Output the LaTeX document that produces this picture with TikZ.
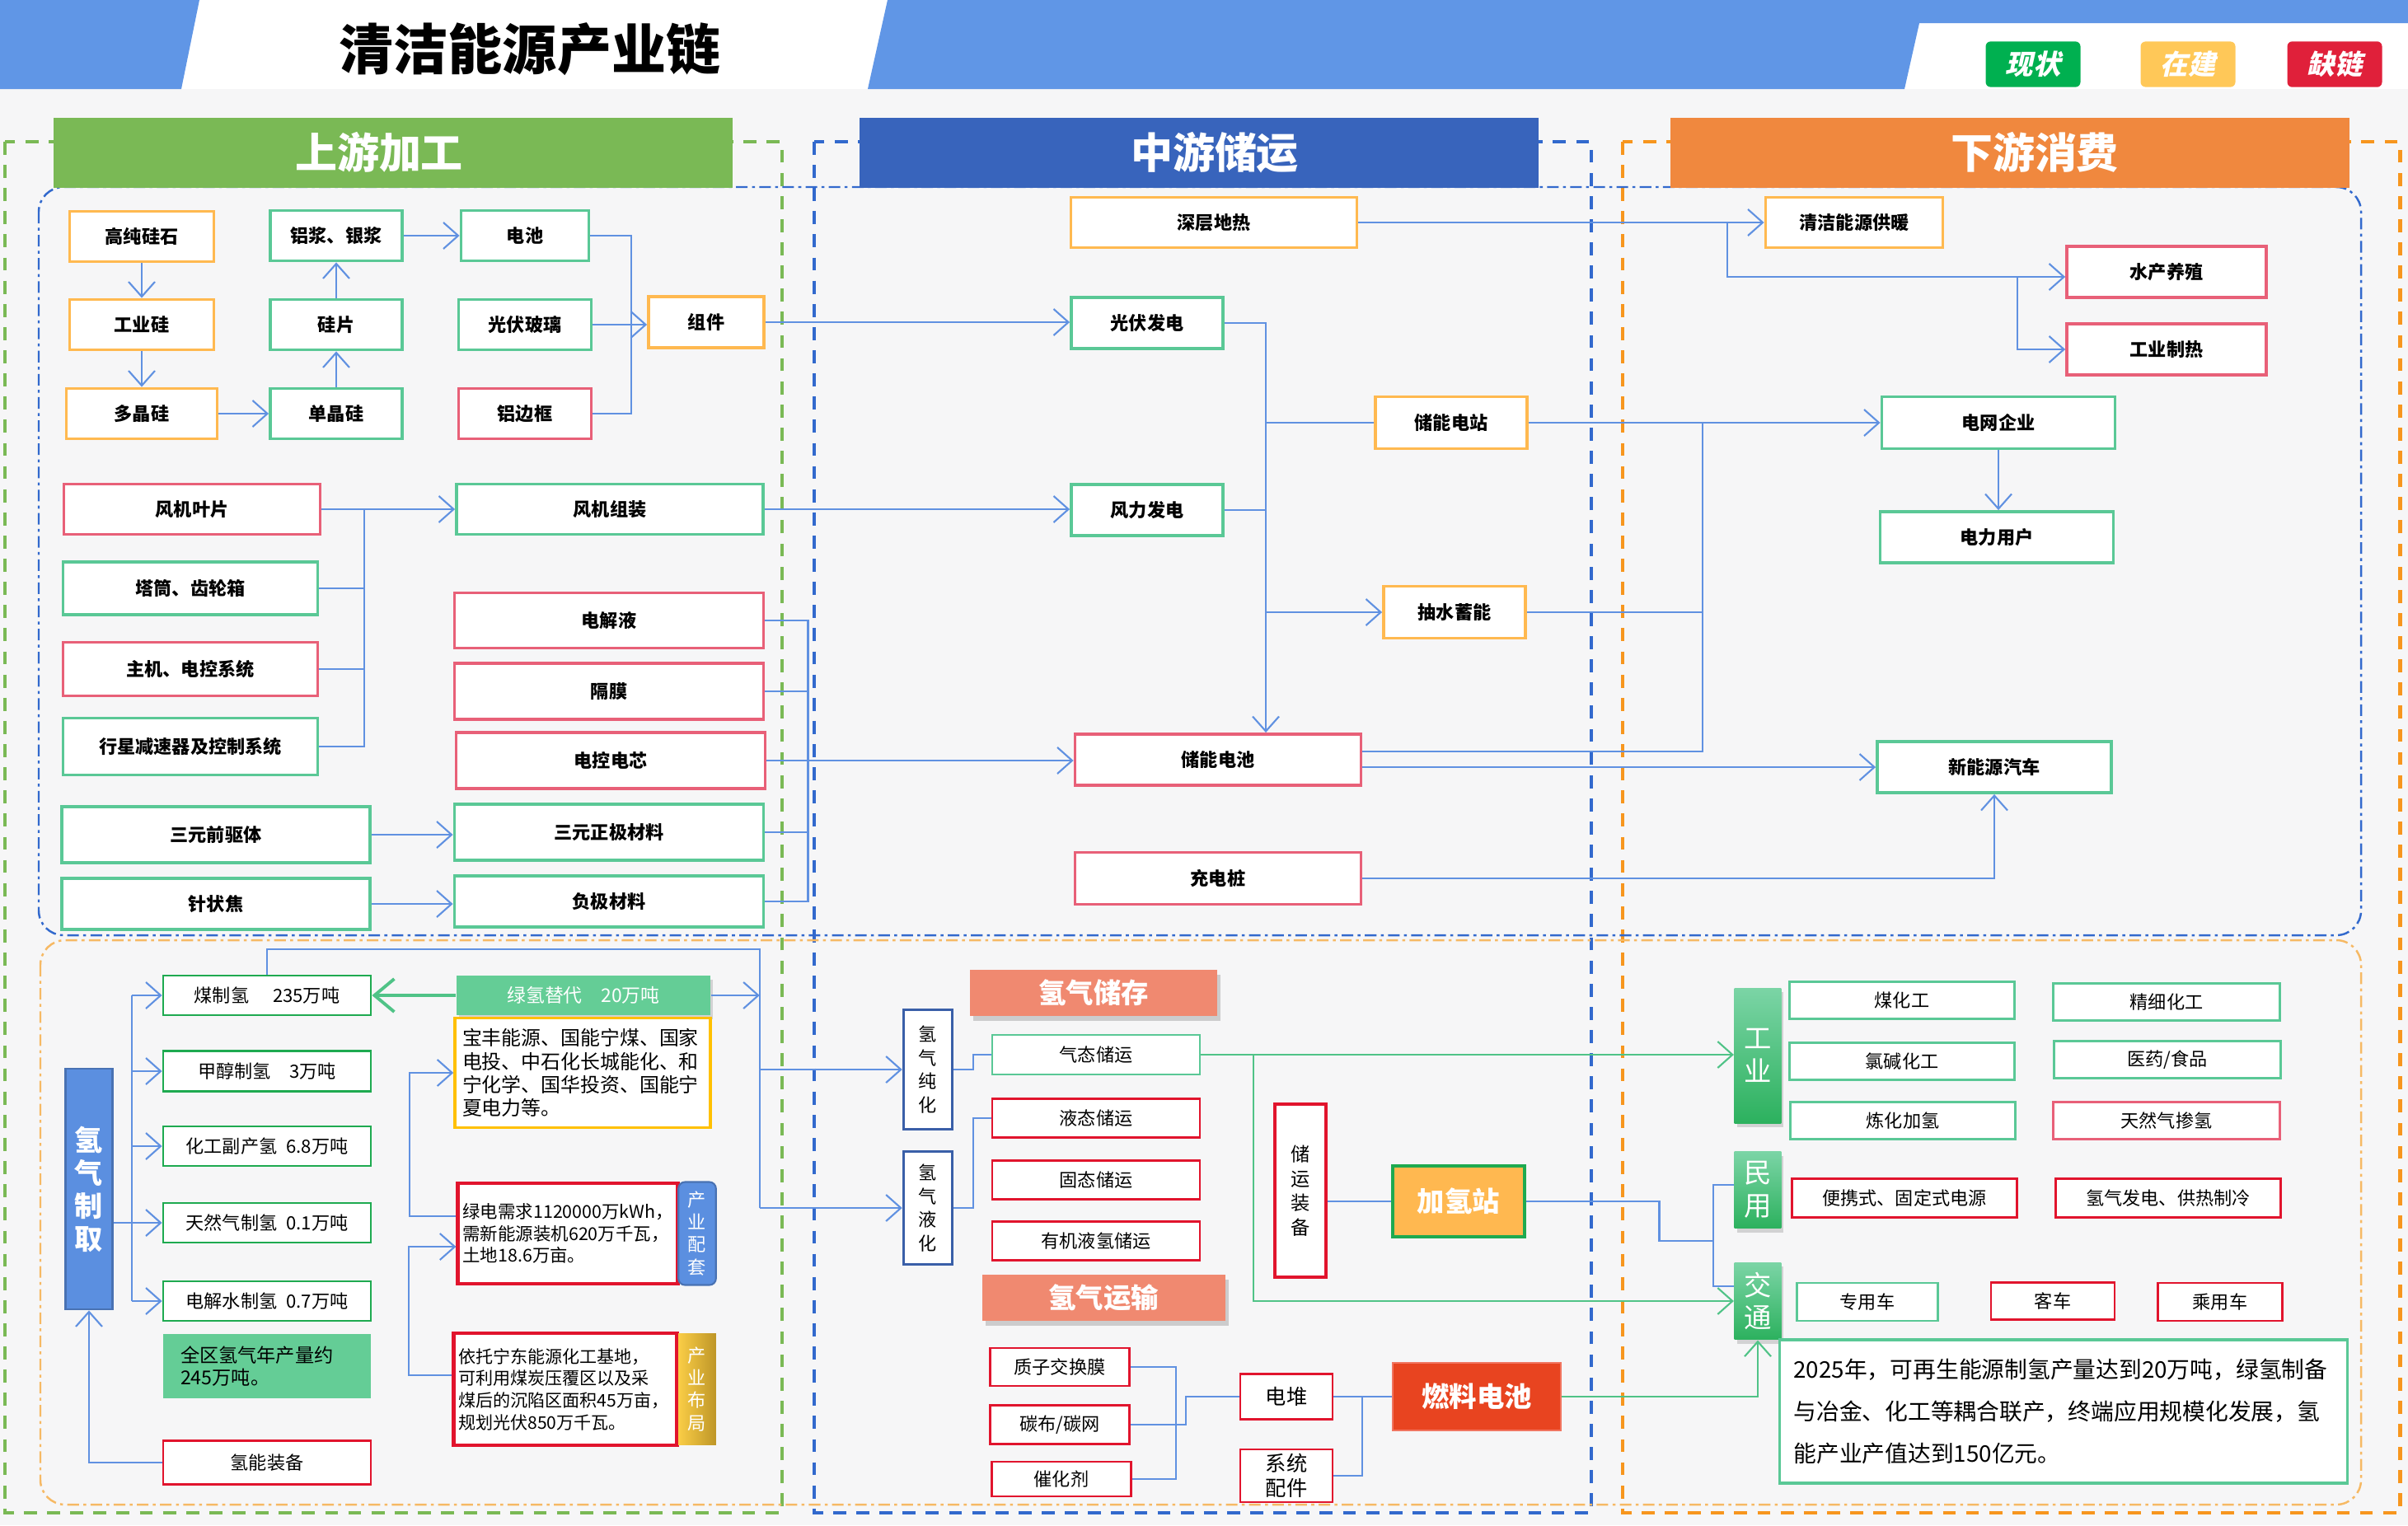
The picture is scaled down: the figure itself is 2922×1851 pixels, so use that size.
\documentclass[tikz,border=0pt]{standalone}
\usepackage{fontspec}
\setmainfont{Noto Sans CJK SC}
\newfontfamily\badgefont{Noto Sans CJK SC}[FakeSlant=0.22]
\usepackage{tikz}
\usepackage{xcolor}
\usetikzlibrary{arrows.meta, positioning, shadows}

\definecolor{hdrblue}{RGB}{96,150,230}
\definecolor{upgreen}{RGB}{122,185,85}
\definecolor{midblue}{RGB}{56,100,188}
\definecolor{downorange}{RGB}{240,136,62}
\definecolor{bxorange}{RGB}{255,185,80}
\definecolor{bxgreen}{RGB}{90,200,150}
\definecolor{bxred}{RGB}{232,96,120}
\definecolor{lineblue}{RGB}{96,145,225}
\definecolor{hgreen}{RGB}{30,170,80}
\definecolor{hred}{RGB}{225,20,45}
\definecolor{fillgreen}{RGB}{100,205,150}
\definecolor{salmon}{RGB}{240,137,112}
\definecolor{tabblue}{RGB}{91,143,224}
\definecolor{jqorange}{RGB}{255,184,80}
\definecolor{fcred}{RGB}{232,68,32}
\definecolor{gline}{RGB}{80,195,135}
\definecolor{bggray}{RGB}{246,246,247}
\definecolor{dashblue}{RGB}{50,105,205}
\definecolor{dashorange}{RGB}{247,150,30}
\definecolor{ddorange}{RGB}{246,185,100}

\tikzstyle{ubox}  = [rectangle, draw, line width=1.1pt, fill=white, text centered, inner sep=0pt,
                     font=\bfseries\fontsize{6.3}{7.5}\selectfont]
\tikzstyle{obox}  = [ubox, draw=bxorange]
\tikzstyle{gbox}  = [ubox, draw=bxgreen]
\tikzstyle{rbox}  = [ubox, draw=bxred]
\tikzstyle{hbox}  = [rectangle, draw, line width=0.8pt, fill=white, text centered, inner sep=0pt,
                     font=\fontsize{6.3}{7.5}\selectfont]
\tikzstyle{hgbox} = [hbox, draw=hgreen]
\tikzstyle{hrbox} = [hbox, draw=hred]
\tikzstyle{lgbox} = [hbox, draw=bxgreen]
\tikzstyle{vbox}  = [hbox, align=center, font=\fontsize{6.3}{8.2}\selectfont]
\tikzstyle{note}  = [rectangle, draw, fill=white, inner sep=0pt, align=left]
\tikzstyle{sechead} = [rectangle, text=white, minimum width=82.4mm, minimum height=8.5mm,
                       font=\bfseries\fontsize{14.5}{16}\selectfont]
\tikzstyle{badge} = [rectangle, rounded corners=0.6mm, text=white, minimum width=11.5mm,
                     minimum height=5.2mm, font=\badgefont\bfseries\fontsize{9.5}{10}\selectfont]
\tikzstyle{hhead} = [rectangle, fill=salmon, text=white, font=\bfseries\fontsize{9.5}{10}\selectfont,
                     drop shadow={opacity=0.35, shadow xshift=0.4mm, shadow yshift=-0.6mm}]
\tikzstyle{tab}   = [rectangle, text=white, align=center, font=\fontsize{6.3}{7.7}\selectfont]
\tikzstyle{cat}   = [rectangle, top color=fillgreen!85!white, bottom color=hgreen!80!fillgreen, text=white,
                     align=center, minimum width=5.2mm, font=\fontsize{9.5}{11.3}\selectfont,
                     drop shadow={opacity=0.3, shadow xshift=0.3mm, shadow yshift=-0.5mm}]
\tikzstyle{arrow} = [draw=lineblue, line width=0.6pt, -{Straight Barb[length=1.8mm, width=3.2mm]}]
\tikzstyle{conn}  = [draw=lineblue, line width=0.6pt]
\tikzstyle{garrow} = [draw=gline, line width=0.6pt, -{Straight Barb[length=1.8mm, width=3.2mm]}]
\tikzstyle{upframe}   = [draw=upgreen, line width=1.4pt, dash pattern=on 4.5pt off 3.5pt]
\tikzstyle{midframe}  = [draw=dashblue, line width=1.4pt, dash pattern=on 4.5pt off 3.5pt]
\tikzstyle{downframe} = [draw=dashorange, line width=1.4pt, dash pattern=on 4.5pt off 3.5pt]
\tikzstyle{ddframe}   = [line width=0.7pt, rounded corners=3mm, dash pattern=on 4pt off 1.5pt on 1pt off 1.5pt]

\begin{document}
\begin{tikzpicture}[x=0.1mm, y=-0.1mm]
    \useasboundingbox (0,0) rectangle (2922,1851);
    % background and header band
    \fill[white] (0,0) rectangle (2922,1851);
    \fill[bggray] (0,108) rectangle (2922,1851);
    \fill[hdrblue] (0,0) -- (242,0) -- (220,108) -- (0,108) -- cycle;
    \fill[hdrblue] (1077,0) -- (2922,0) -- (2922,28) -- (2329,28) -- (2311,108) -- (1053,108) -- cycle;
    \node (title) at (643,60) {\bfseries\fontsize{18.8}{20}\selectfont 清洁能源产业链};
    \node (now)   [badge, fill={rgb,255:red,0;green,176;blue,80}] at (2467,78) {现状};
    \node (build) [badge, fill={rgb,255:red,255;green,200;blue,88}] at (2655,78) {在建};
    \node (gap)   [badge, fill={rgb,255:red,224;green,32;blue,58}] at (2833,78) {缺链};

    % section frames
    \draw[upframe]   (6,172) rectangle (949,1836);
    \draw[midframe]  (988,172) rectangle (1931,1836);
    \draw[downframe] (1969,172) rectangle (2912,1836);
    \draw[ddframe, draw=dashblue] (47,227) rectangle (2865,1135);
    \draw[ddframe, draw=ddorange] (49,1141) rectangle (2865,1826);

    \node (hup)   [sechead, fill=upgreen]    at (477,185)  {上游加工\hspace*{3.4mm}};
    \node (hmid)  [sechead, fill=midblue]    at (1455,185) {\hspace*{3.8mm}中游储运};
    \node (hdown) [sechead, fill=downorange] at (2439,185) {\hspace*{6mm}下游消费};

    % upstream: photovoltaic
    \node (gaochun)   [obox, minimum width=17.5mm, minimum height=6.1mm] at (172,287) {高纯硅石};
    \node (gongyegui) [obox, minimum width=17.5mm, minimum height=6.1mm] at (172,394) {工业硅};
    \node (duojing)   [obox, minimum width=18.3mm, minimum height=6.1mm] at (172,502) {多晶硅};
    \node (lujiang)   [gbox, minimum width=16mm, minimum height=6.1mm] at (408,286) {铝浆、银浆};
    \node (guipian)   [gbox, minimum width=16mm, minimum height=6.1mm] at (408,394) {硅片};
    \node (danjing)   [gbox, minimum width=16mm, minimum height=6.1mm] at (408,502) {单晶硅};
    \node (dianchi)   [gbox, minimum width=15.5mm, minimum height=6.1mm] at (637,286) {电池};
    \node (boli)      [gbox, minimum width=16.1mm, minimum height=6.1mm] at (637,394) {光伏玻璃};
    \node (biankuang) [rbox, minimum width=16.1mm, minimum height=6.1mm] at (637,502) {铝边框};
    \node (zujian)    [obox, minimum width=14mm, minimum height=6.2mm] at (857,391) {组件};

    % upstream: wind
    \node (yepian)   [rbox, minimum width=31.1mm, minimum height=6.1mm] at (233,618) {风机叶片};
    \node (tatong)   [gbox, minimum width=30.9mm, minimum height=6.4mm] at (231,714) {塔筒、齿轮箱};
    \node (zhuji)    [rbox, minimum width=30.9mm, minimum height=6.5mm] at (231,812) {主机、电控系统};
    \node (xingxing) [gbox, minimum width=30.9mm, minimum height=6.9mm] at (231,906) {行星减速器及控制系统};
    \node (fengzu)   [gbox, minimum width=37.2mm, minimum height=6.1mm] at (740,618) {风机组装};

    % upstream: battery
    \node (jieye)      [rbox, minimum width=37.5mm, minimum height=6.7mm] at (739,753) {电解液};
    \node (gemo)       [rbox, minimum width=37.5mm, minimum height=6.8mm] at (739,839) {隔膜};
    \node (diankong)   [rbox, minimum width=37.5mm, minimum height=6.8mm] at (741,923) {电控电芯};
    \node (qianqu)     [gbox, minimum width=37.4mm, minimum height=6.8mm] at (262,1013) {三元前驱体};
    \node (zhengji)    [gbox, minimum width=37.5mm, minimum height=6.8mm] at (739,1010) {三元正极材料};
    \node (zhenzhuang) [gbox, minimum width=37.4mm, minimum height=6.2mm] at (262,1097) {针状焦};
    \node (fuji)       [gbox, minimum width=37.5mm, minimum height=6.2mm] at (739,1094) {负极材料};

    % midstream
    \node (dire)      [obox, minimum width=34.7mm, minimum height=6.1mm] at (1473,270) {深层地热};
    \node (guangfu)   [gbox, minimum width=18.4mm, minimum height=6.2mm] at (1392,392) {光伏发电};
    \node (fengli)    [gbox, minimum width=18.4mm, minimum height=6.2mm] at (1392,619) {风力发电};
    \node (dianzhan)  [obox, minimum width=18.4mm, minimum height=6.3mm] at (1761,513) {储能电站};
    \node (choushui)  [obox, minimum width=17.2mm, minimum height=6.3mm] at (1765,743) {抽水蓄能};
    \node (chuneng)   [rbox, minimum width=34.7mm, minimum height=6.2mm] at (1478,922) {储能电池};
    \node (chongdian) [rbox, minimum width=34.7mm, minimum height=6.3mm] at (1478,1066) {充电桩};

    % downstream
    \node (gongnuan) [obox, minimum width=21.5mm, minimum height=6.1mm] at (2250,270) {清洁能源供暖};
    \node (shuichan) [rbox, minimum width=24.2mm, minimum height=6.2mm] at (2629,330) {水产养殖};
    \node (zhire)    [rbox, minimum width=24.2mm, minimum height=6.2mm] at (2629,424) {工业制热};
    \node (dianwang) [gbox, minimum width=28.3mm, minimum height=6.3mm] at (2425,513) {电网企业};
    \node (yonghu)   [gbox, minimum width=28.3mm, minimum height=6.2mm] at (2423,652) {电力用户};
    \node (xinche)   [gbox, minimum width=28.4mm, minimum height=6.2mm] at (2420,931) {新能源汽车};

    % upstream connectors
    \draw[arrow] (gaochun) -- (gongyegui);
    \draw[arrow] (gongyegui) -- (duojing);
    \draw[arrow] (duojing) -- (danjing);
    \draw[arrow] (danjing) -- (guipian);
    \draw[arrow] (guipian) -- (lujiang);
    \draw[arrow] (lujiang) -- (dianchi);
    \draw[conn] (dianchi.east) -| ([xshift=4.7mm]biankuang.east) -- (biankuang.east);
    \draw[arrow] (boli.east) -- (boli.east -| zujian.west);
    \coordinate (wbus) at ([xshift=5.2mm]yepian.east);
    \draw[arrow] (yepian.east) -- (fengzu.west);
    \draw[conn] (tatong.east) -| (wbus);
    \draw[conn] (zhuji.east) -| (wbus);
    \draw[conn] (xingxing.east) -| (wbus);
    \coordinate (bbus) at ([xshift=5.2mm]jieye.east);
    \draw[conn] (jieye.east) -- (bbus) -- (bbus |- fuji.east) -- (fuji.east);
    \draw[conn] (gemo.east) -- (gemo.east -| bbus);
    \draw[conn] (zhengji.east) -- (zhengji.east -| bbus);
    \draw[arrow] (qianqu.east) -- (qianqu.east -| zhengji.west);
    \draw[arrow] (zhenzhuang.east) -- (zhenzhuang.east -| fuji.west);
    \draw[arrow] (diankong.east) -- (diankong.east -| chuneng.west);

    % midstream connectors
    \draw[arrow] (zujian.east) -- (zujian.east -| guangfu.west);
    \draw[arrow] (fengzu.east) -- (fengzu.east -| fengli.west);
    \coordinate (mbus) at ([xshift=5.8mm]chuneng.north);
    \draw[arrow] (guangfu.east) -| (mbus);
    \draw[conn] (fengli.east) -- (fengli.east -| mbus);
    \draw[conn] (dianzhan.west -| mbus) -- (dianzhan.west);
    \draw[arrow] (choushui.west -| mbus) -- (choushui.west);

    % downstream connectors
    \draw[arrow] (dire.east) -- (dire.east -| gongnuan.west);
    \draw[arrow] ([xshift=-4.5mm]gongnuan.west) |- ([yshift=-0.6mm]shuichan.west);
    \draw[arrow] ([xshift=-5.8mm, yshift=-0.6mm]shuichan.west) |- (zhire.west);
    \coordinate (gbus) at ([xshift=-21.6mm]dianwang.west);
    \draw[arrow] (dianzhan.east) -- (dianzhan.east -| dianwang.west);
    \draw[conn] (choushui.east) -| (gbus);
    \draw[conn] ([yshift=1mm]chuneng.east) -| (gbus);
    \draw[arrow] ([yshift=-0.9mm]chuneng.east) -- ([yshift=-0.9mm]chuneng.east -| xinche.west);
    \draw[arrow] (dianwang.south) -- (dianwang.south |- yonghu.north);
    \draw[arrow] (chongdian.east) -| (xinche.south);

    % hydrogen: production
    \node (qizhi) [rectangle, fill=tabblue, draw=tabblue!80!black, line width=0.8pt, text=white, align=center,
                   minimum width=5.5mm, minimum height=29.2mm, font=\bfseries\fontsize{9.7}{11.4}\selectfont]
                   at (108,1443) {氢\\气\\制\\取};
    \node (meizhi)  [hgbox, minimum width=25.2mm, minimum height=4.8mm] at (324,1208) {煤制氢\hspace{1.3em}235万吨};
    \node (jiachun) [hgbox, minimum width=25.2mm, minimum height=4.9mm] at (324,1300) {甲醇制氢\hspace{1em}3万吨};
    \node (fuchan)  [hgbox, minimum width=25.2mm, minimum height=4.8mm] at (324,1391) {化工副产氢\hspace{0.5em}6.8万吨};
    \node (tianran) [hgbox, minimum width=25.2mm, minimum height=4.8mm] at (324,1484) {天然气制氢\hspace{0.5em}0.1万吨};
    \node (dianjie) [hgbox, minimum width=25.2mm, minimum height=4.8mm] at (324,1579) {电解水制氢\hspace{0.5em}0.7万吨};
    \node (quanqu)  [rectangle, fill=fillgreen, inner sep=0pt, align=left, text width=21mm,
                     minimum width=25.2mm, minimum height=7.8mm, font=\fontsize{6.6}{7.7}\selectfont]
                     at (324,1658) {全区氢气年产量约\\245万吨。};
    \node (zhuangbei) [hrbox, minimum width=25.2mm, minimum height=5.3mm] at (324,1775) {氢能装备};
    \node (lvqing) [rectangle, fill=fillgreen, text=white, minimum width=30.8mm, minimum height=4.8mm,
                    font=\fontsize{6.5}{7.5}\selectfont,
                    drop shadow={opacity=0.3, shadow xshift=0.3mm, shadow yshift=-0.5mm}]
                    at (708,1208) {绿氢替代\hspace{1em}20万吨};
    \node (baofeng) [note, draw={rgb,255:red,255;green,192;blue,0}, line width=1pt, text width=29.2mm,
                     minimum width=31mm, minimum height=13.3mm, font=\fontsize{6.8}{8}\selectfont]
                     at (707,1302) {宝丰能源、国能宁煤、国家\\电投、中石化长城能化、和\\宁化学、国华投资、国能宁\\夏电力等。};
    \node (lvdian) [note, draw=hred, line width=1.2pt, text width=25.5mm, minimum width=26.7mm,
                    minimum height=12.2mm, font=\fontsize{6.1}{7.5}\selectfont]
                    at (689,1497) {绿电需求1120000万kWh，\\需新能源装机620万千瓦，\\土地18.6万亩。};
    \node (peitao) [tab, fill=tabblue, draw=tabblue!80!black, line width=0.6pt, rounded corners=0.8mm,
                    minimum width=4.5mm, minimum height=12.1mm] at (846,1497) {产\\业\\配\\套};
    \node (yituo) [note, draw=hred, line width=1.2pt, text width=26mm, minimum width=27.1mm,
                   minimum height=13.6mm, font=\fontsize{6}{7.6}\selectfont]
                   at (686,1686) {依托宁东能源化工基地，\\可利用煤炭压覆区以及采\\煤后的沉陷区面积45万亩，\\规划光伏850万千瓦。};
    \node (buju) [tab, left color={rgb,255:red,250;green,205;blue,70}, right color={rgb,255:red,190;green,150;blue,40},
                  minimum width=4.5mm, minimum height=13.5mm] at (846,1686) {产\\业\\布\\局};

    % hydrogen: storage and transport
    \node (chucun)  [hhead, minimum width=30mm, minimum height=5.4mm] at (1327,1205) {氢气储存};
    \node (chunhua) [vbox, draw={rgb,255:red,58;green,95;blue,168}, line width=1pt,
                     minimum width=5.9mm, minimum height=14.5mm] at (1126,1298) {氢\\气\\纯\\化};
    \node (yehua)   [vbox, draw={rgb,255:red,58;green,95;blue,168}, line width=1pt,
                     minimum width=5.9mm, minimum height=13.7mm] at (1126,1466) {氢\\气\\液\\化};
    \node (qitai)   [lgbox, minimum width=25.2mm, minimum height=4.8mm] at (1330,1280) {气态储运};
    \node (yetai)   [hrbox, minimum width=25.2mm, minimum height=4.7mm] at (1330,1357) {液态储运};
    \node (gutai)   [hrbox, minimum width=25.2mm, minimum height=4.7mm] at (1330,1432) {固态储运};
    \node (youji)   [hrbox, minimum width=25.2mm, minimum height=4.7mm] at (1330,1506) {有机液氢储运};
    \node (yunshu)  [hhead, minimum width=29.5mm, minimum height=5.4mm] at (1339,1575) {氢气运输};
    \node (chuyun)  [vbox, draw=hred, line width=1pt, minimum width=6.2mm, minimum height=21mm,
                     font=\fontsize{6.6}{8.4}\selectfont] at (1578,1445) {储\\运\\装\\备};
    \node (jiaqing) [rectangle, fill=jqorange, draw=hgreen, line width=1.4pt, text=white,
                     minimum width=16mm, minimum height=8.6mm, font=\bfseries\fontsize{9.5}{10}\selectfont]
                     at (1770,1458) {加氢站};
    \node (zhizi)   [hrbox, minimum width=16.9mm, minimum height=4.6mm] at (1286,1659) {质子交换膜};
    \node (tanbu)   [hrbox, minimum width=16.9mm, minimum height=4.7mm] at (1286,1729) {碳布/碳网};
    \node (cuihua)  [hrbox, minimum width=16.9mm, minimum height=4.2mm] at (1288,1795) {催化剂};
    \node (diandui) [hrbox, minimum width=11.2mm, minimum height=5.5mm, font=\fontsize{7.2}{8}\selectfont]
                     at (1561,1695) {电堆};
    \node (peijian) [hrbox, align=center, minimum width=11.2mm, minimum height=6.4mm,
                     font=\fontsize{7.2}{8.4}\selectfont] at (1561,1791) {系统\\配件};
    \node (ranliao) [rectangle, fill=fcred, draw=fcred!60!pink, line width=0.8pt, text=white,
                     minimum width=20.4mm, minimum height=8.2mm, font=\bfseries\fontsize{9.5}{10}\selectfont]
                     at (1792,1695) {燃料电池};

    % hydrogen: applications
    \node (gongye)   [cat, minimum height=16.4mm] at (2133,1281) {工\\业};
    \node (minyong)  [cat, minimum height=9.3mm] at (2133,1444) {民\\用};
    \node (jiaotong) [cat, minimum height=9.3mm] at (2133,1579) {交\\通};
    \node (meihua)    [lgbox, minimum width=27.3mm, minimum height=4.5mm] at (2308,1214) {煤化工};
    \node (lujian)    [lgbox, minimum width=27.3mm, minimum height=4.5mm] at (2308,1288) {氯碱化工};
    \node (lianhua)   [lgbox, minimum width=27.3mm, minimum height=4.5mm] at (2309,1360) {炼化加氢};
    \node (jingxi)    [lgbox, minimum width=27.5mm, minimum height=4.5mm] at (2629,1216) {精细化工};
    \node (yiyao)     [lgbox, minimum width=27.5mm, minimum height=4.5mm] at (2630,1286) {医药/食品};
    \node (chanqing)  [hrbox, draw=bxred, minimum width=27.5mm, minimum height=4.5mm] at (2629,1360) {天然气掺氢};
    \node (bianxie)   [hrbox, minimum width=27.3mm, minimum height=4.7mm] at (2311,1454) {便携式、固定式电源};
    \node (fadian)    [hrbox, minimum width=27.3mm, minimum height=4.7mm] at (2631,1454) {氢气发电、供热制冷};
    \node (zhuanyong) [lgbox, minimum width=17.1mm, minimum height=4.6mm] at (2266,1580) {专用车};
    \node (keche)     [hrbox, minimum width=15mm, minimum height=4.5mm] at (2491,1579) {客车};
    \node (chengyong) [hrbox, minimum width=15.1mm, minimum height=4.6mm] at (2694,1580) {乘用车};
    \node (summary) [note, draw=bxgreen, line width=1.1pt, text width=65.5mm, minimum width=68.9mm,
                     minimum height=17.4mm, font=\fontsize{7.9}{14.5}\selectfont]
                     at (2504,1713) {2025年，可再生能源制氢产量达到20万吨，绿氢制备\\与冶金、化工等耦合联产，终端应用规模化发展，氢\\能产业产值达到150亿元。};

    % hydrogen connectors
    \draw[arrow] (zhuangbei.west) -| (qizhi.south);
    \coordinate (qbus) at ([xshift=-3.7mm]meizhi.west);
    \draw[conn] (qizhi.east |- tianran.west) -- (qbus |- tianran.west);
    \draw[conn] (qbus) -- (qbus |- dianjie.west);
    \foreach \n in {meizhi, jiachun, fuchan, tianran, dianjie}
        \draw[arrow] (qbus |- \n.west) -- (\n.west);
    \draw[draw=gline, line width=1.1pt, -{Straight Barb[length=2.4mm, width=4mm]}] (lvqing.west) -- (meizhi.east);
    \coordinate (hbus) at ([xshift=-17.3mm]chunhua.west);
    \draw[conn] (meizhi.north) -- ++(0,-31) -| (hbus |- yehua.west);
    \draw[arrow] (lvqing.east) -- (lvqing.east -| hbus);
    \draw[arrow] (hbus |- chunhua.west) -- (chunhua.west);
    \draw[arrow] (hbus |- yehua.west) -- (yehua.west);
    \draw[arrow] ([yshift=2.1mm]lvdian.west) -- ++(-56,0) |- (baofeng.west);
    \draw[arrow] ([yshift=1.7mm]yituo.west) -- ++(-52,0) |- ([yshift=-1.6mm]lvdian.west);
    \draw[conn] (chunhua.east) -- ++(24,0) |- (qitai.west);
    \draw[conn] (yehua.east) -- ++(24,0) |- (yetai.west);
    \draw[conn] (chuyun.east |- jiaqing.west) -- (jiaqing.west);
    \coordinate (fbus) at ([xshift=5.5mm]zhizi.east);
    \draw[conn] (zhizi.east) -- (fbus) -- (fbus |- cuihua.east) -- (cuihua.east);
    \draw[conn] (tanbu.east) -- (tanbu.east -| fbus) -- ++(12,0) |- (diandui.west);
    \draw[conn] (diandui.east) -- (ranliao.west);
    \draw[conn] (peijian.east) -| ([xshift=-3.6mm]ranliao.west);
    \draw[garrow] (qitai.east) -- (qitai.east -| gongye.west);
    \draw[garrow] ([xshift=6.4mm]qitai.east) |- (jiaotong.west);
    \draw[garrow] (ranliao.east) -| (jiaotong.south);
    \draw[conn] (jiaqing.east) -- ++(161,0) |- ([xshift=-2.5mm, yshift=-6.2mm]minyong.west);
    \draw[conn] ([yshift=0.6mm]minyong.west) -- ++(-25,0) |- ([yshift=1.8mm]jiaotong.west);
\end{tikzpicture}
\end{document}
